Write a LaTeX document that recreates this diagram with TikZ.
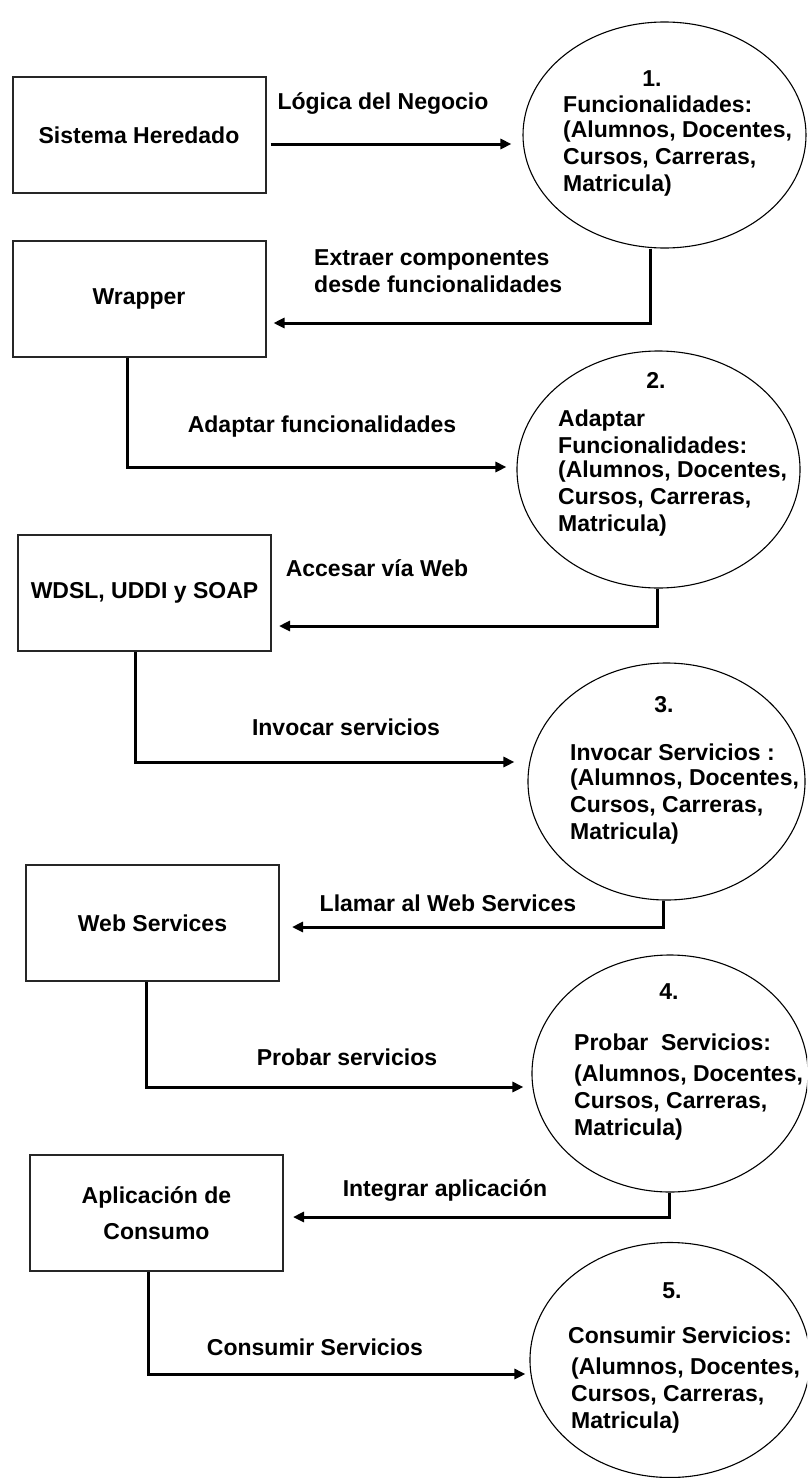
\documentclass[tikz,border=0pt]{standalone}
\usepackage{fontspec}
\setmainfont{Liberation Sans}
\usetikzlibrary{arrows.meta,calc,shapes.geometric}
\begin{document}
\begin{tikzpicture}[x=1pt,y=-1pt,
  every node/.style={font=\fontsize{23}{27}\selectfont\bfseries, inner sep=0pt},
  box/.style={draw=black!85, line width=2pt, rectangle, minimum width=253pt,
    minimum height=116pt, align=center},
  bubble/.style={draw, line width=1.1pt, ellipse, minimum width=280pt, minimum height=237pt},
  flow/.style={line width=3pt, -{Triangle[length=11pt,width=10pt]}},
  txt/.style={anchor=west, align=left}]
\useasboundingbox (0,0) rectangle (807,1478);
\clip (0,0) rectangle (807,1478);
\fill[white] (0,0) rectangle (807,1478);

% systems on the left
\node[box] (b1) at (139,135) {Sistema Heredado};
\node[box] (b2) at (139,298.5) {Wrapper};
\node[box] (b3) at (144.5,593) {WDSL, UDDI y SOAP};
\node[box] (b4) at (152.5,923) {Web Services};
\node[box] (b5) at (156.5,1213) {Aplicación de\\[9pt]Consumo};

% processes on the right
\node[bubble, minimum width=283pt, minimum height=226pt] (e1) at (664.5,135) {};
\node[bubble, minimum width=283pt] (e2) at (658.5,469.5) {};
\node[bubble, minimum width=277pt] (e3) at (666.5,781.5) {};
\node[bubble, minimum width=276pt] (e4) at (670,1073.5) {};
\node[bubble, minimum width=280pt, minimum height=235pt] (e5) at (670,1360) {};

% process texts
\node (n1) at (652,79) {1.};
\node[txt] (h1) at (563,104) {Funcionalidades:};
\node[txt] (t1) at (563,158.5) {(Alumnos, Docentes,\\Cursos, Carreras,\\Matricula)};

\node (n2) at (656,380) {2.};
\node[txt] (h2) at (558,432) {Adaptar\\Funcionalidades:};
\node[txt] (t2) at (558,499) {(Alumnos, Docentes,\\Cursos, Carreras,\\Matricula)};

\node (n3) at (664,705) {3.};
\node[txt] (h3) at (570,752) {Invocar Servicios :};
\node[txt] (t3) at (570,807) {(Alumnos, Docentes,\\Cursos, Carreras,\\Matricula)};

\node (n4) at (669,992) {4.};
\node[txt] (h4) at (574,1042) {Probar~ Servicios:};
\node[txt] (t4) at (574,1103) {(Alumnos, Docentes,\\Cursos, Carreras,\\Matricula)};

\node (n5) at (672,1291) {5.};
\node[txt] (h5) at (568,1335) {Consumir Servicios:};
\node[txt] (t5) at (571,1396) {(Alumnos, Docentes,\\Cursos, Carreras,\\Matricula)};

% connectors
\draw[flow] ($(b1.east)+(4,9)$) -- ($(e1.west)+(-11,9)$);
\draw[flow] ($(e1.south)+(-14.5,0)$) |- ($(b2.east)+(7,24.5)$);
\draw[flow] ($(b2.south)+(-12,0)$) |- ($(e2.west)+(-10,-2.5)$);
\draw[flow] ($(e2.south)+(-1.5,0)$) |- ($(b3.east)+(7,33)$);
\draw[flow] ($(b3.south)+(-9.5,0)$) |- ($(e3.west)+(-13,-19.5)$);
\draw[flow] ($(e3.south)+(-3.5,0)$) |- ($(b4.east)+(12,4)$);
\draw[flow] ($(b4.south)+(-6.5,0)$) |- ($(e4.west)+(-8,13.5)$);
\draw[flow] ($(e4.south)+(-1,0)$) |- ($(b5.east)+(9,4)$);
\draw[flow] ($(b5.south)+(-8.5,0)$) |- ($(e5.west)+(-4,14)$);

% connector labels
\node (l1) at (383,103) {Lógica del Negocio};
\node[txt] (l2) at (314,271) {Extraer componentes\\desde funcionalidades};
\node (l3) at (322,427) {Adaptar funcionalidades};
\node (l4) at (377,568) {Accesar vía Web};
\node (l5) at (346,727) {Invocar servicios};
\node (l6) at (448,903) {Llamar al Web Services};
\node (l7) at (347,1057) {Probar servicios};
\node (l8) at (445,1190) {Integrar aplicación};
\node (l9) at (315,1347) {Consumir Servicios};
\end{tikzpicture}
\end{document}
